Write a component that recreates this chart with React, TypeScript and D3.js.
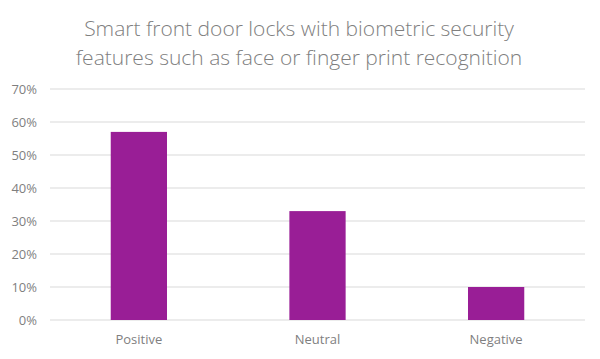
import React from "react";
import * as d3 from "d3";

const categories = ["Positive", "Neutral", "Negative"];
const shares = [0.57, 0.33, 0.1];
const yTicks = [0, 0.1, 0.2, 0.3, 0.4, 0.5, 0.6, 0.7];
const titleLines = [
  "Smart front door locks with biometric security",
  "features such as face or finger print recognition",
];

const width = 600;
const height = 359;
const plotLeft = 50;
const plotRight = 585;
const plotTop = 89;
const plotBottom = 320;

export default function App() {
  const x = d3
    .scaleBand<string>()
    .domain(categories)
    .range([plotLeft, plotRight])
    .paddingInner(0.685)
    .paddingOuter(0.34);
  const y = d3.scaleLinear().domain([0, 0.7]).range([plotBottom, plotTop]);
  const fmt = d3.format(".0%");

  return (
    <svg
      width={width}
      height={height}
      style={{ position: "absolute", left: 0, top: 0, background: "#fff" }}
      fontFamily="'Open Sans', sans-serif"
    >
      {titleLines.map((t, i) => (
        <text
          key={i}
          x={299}
          y={36 + i * 28.5}
          textAnchor="middle"
          fontSize={21}
          fontWeight={300}
          fill="#7f7f7f"
        >
          {t}
        </text>
      ))}
      {yTicks.map((t) => (
        <g key={t}>
          <line
            x1={plotLeft}
            x2={plotRight}
            y1={y(t)}
            y2={y(t)}
            stroke="#d9d9d9"
            strokeWidth={1}
          />
          <text
            x={37}
            y={y(t)}
            dy="0.35em"
            textAnchor="end"
            fontSize={13}
            fill="#7f7f7f"
          >
            {fmt(t)}
          </text>
        </g>
      ))}
      {categories.map((c, i) => (
        <g key={c}>
          <rect
            x={x(c)}
            y={y(shares[i])}
            width={x.bandwidth()}
            height={plotBottom - y(shares[i])}
            fill="#991e96"
          />
          <text
            x={(x(c) ?? 0) + x.bandwidth() / 2}
            y={344}
            textAnchor="middle"
            fontSize={13}
            fill="#7f7f7f"
          >
            {c}
          </text>
        </g>
      ))}
    </svg>
  );
}
